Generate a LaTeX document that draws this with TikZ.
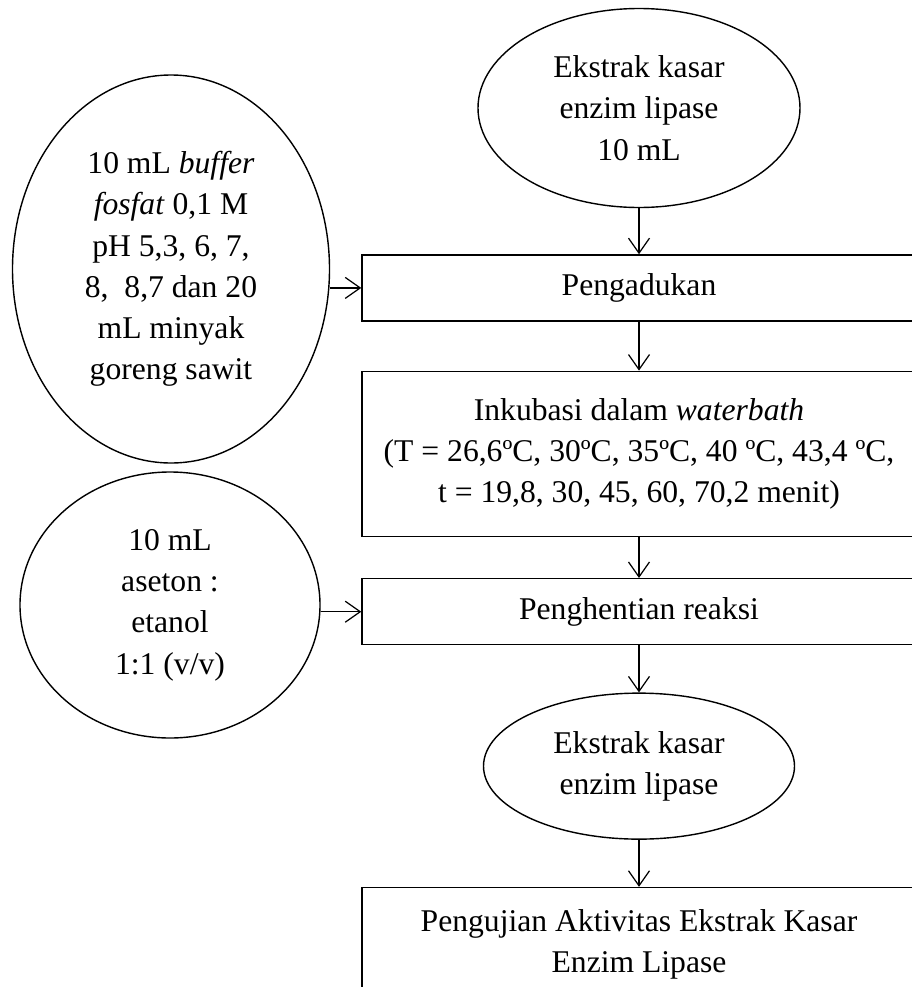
\documentclass[tikz,border=0pt]{standalone}
\usepackage{fontspec}
\setmainfont{Liberation Serif}
\usepackage{tikz}
\usetikzlibrary{shapes.geometric, arrows.meta, positioning}
\tikzset{
  bahannode/.style={draw, ellipse, line width=0.8pt, inner sep=0pt, align=center},
  prosesnode/.style={draw, rectangle, line width=0.8pt, minimum width=11.08cm, inner sep=0pt, align=center},
  arrow/.style={-{Straight Barb[length=3mm, width=4.2mm]}, line width=0.7pt}
}

\begin{document}
\begin{tikzpicture}[font=\fontsize{18pt}{23.5pt}\selectfont]

\useasboundingbox (0,0) rectangle (18.24,-19.74);
\clip (0,0) rectangle (18.24,-19.74);

% Nodes
\node[bahannode, minimum width=6.44cm, minimum height=3.98cm] (ekstrak) at (12.78,-2.16) {Ekstrak kasar\\enzim lipase\\10 mL};
\node[prosesnode, minimum height=1.32cm, below=0.92cm of ekstrak] (aduk) {Pengadukan};
\node[prosesnode, minimum height=3.30cm, below=0.98cm of aduk] (inkubasi) {Inkubasi dalam \textit{waterbath}\\(T = 26,6ºC, 30ºC, 35ºC, 40 ºC, 43,4 ºC,\\t = 19,8, 30, 45, 60, 70,2 menit)};
\node[prosesnode, minimum height=1.32cm, below=0.82cm of inkubasi] (henti) {Penghentian reaksi};
\node[bahannode, minimum width=6.22cm, minimum height=2.92cm, below=0.94cm of henti] (kasar) {Ekstrak kasar\\enzim lipase};
\node[prosesnode, minimum height=2.28cm, below=0.94cm of kasar] (uji) {Pengujian Aktivitas Ekstrak Kasar\\Enzim Lipase};

\node[bahannode, minimum width=6.34cm, minimum height=7.76cm] (buffer) at (3.42,-5.38) {10 mL \textit{buffer}\\\textit{fosfat} 0,1 M\\pH 5,3, 6, 7,\\8, \ 8,7 dan 20\\mL minyak\\goreng sawit};
\node[bahannode, minimum width=6.00cm, minimum height=5.32cm] (aseton) at (3.40,-12.10) {10 mL\\aseton :\\etanol\\1:1 (v/v)};

% Edges
\draw[arrow] (ekstrak) -- (aduk);
\draw[arrow] (aduk) -- (inkubasi);
\draw[arrow] (inkubasi) -- (henti);
\draw[arrow] (henti) -- (kasar);
\draw[arrow] (kasar) -- (uji);
\draw[arrow] (aduk.west -| buffer.east) -- (aduk.west);
\draw[arrow] (henti.west -| aseton.east) -- (henti.west);

\end{tikzpicture}
\end{document}
